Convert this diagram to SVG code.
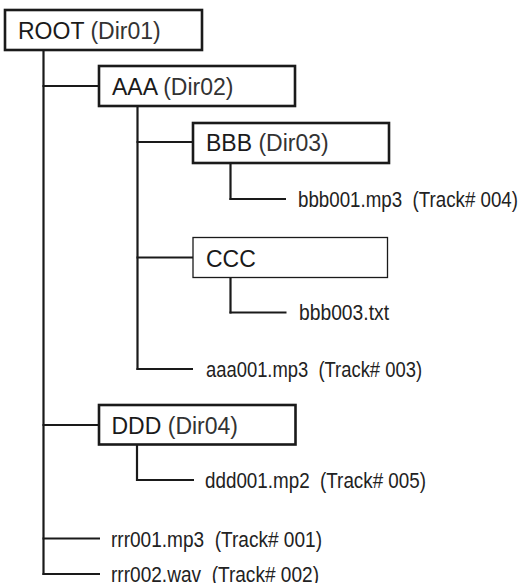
<svg xmlns="http://www.w3.org/2000/svg" width="522" height="583" viewBox="0 0 522 583">
<style>
.box{fill:#fff;stroke:#1a1a1a;stroke-width:2.6}
.thin{fill:#fff;stroke:#1a1a1a;stroke-width:1.3}
.lbl{font-family:"Liberation Sans",Arial,sans-serif;font-size:23px;fill:#1a1a1a}
.dir{fill:#333}
.file{font-family:"Liberation Sans",Arial,sans-serif;font-size:22px;fill:#222;white-space:pre}
.conn line{stroke:#1a1a1a;stroke-width:2.2}
</style>
<rect width="522" height="583" fill="#fff"/>
<g class="conn" id="connectors">
<line x1="43.5" y1="50" x2="43.5" y2="575"/>
<line x1="42.5" y1="86" x2="99" y2="86"/>
<line x1="42.5" y1="425" x2="99" y2="425"/>
<line x1="42.5" y1="538.5" x2="100" y2="538.5"/>
<line x1="42.5" y1="574" x2="100" y2="574"/>
<line x1="137.5" y1="106" x2="137.5" y2="370"/>
<line x1="136.5" y1="142" x2="193" y2="142"/>
<line x1="136.5" y1="257.5" x2="193" y2="257.5"/>
<line x1="136.5" y1="369" x2="193" y2="369"/>
<line x1="230.5" y1="163" x2="230.5" y2="200"/>
<line x1="229.5" y1="199" x2="286" y2="199"/>
<line x1="230.5" y1="277" x2="230.5" y2="313.5"/>
<line x1="229.5" y1="312.5" x2="286.5" y2="312.5"/>
<line x1="137" y1="444" x2="137" y2="481"/>
<line x1="136" y1="480" x2="194" y2="480"/>
</g>
<g id="root">
<rect class="box" x="5" y="10" width="197" height="40"/>
<text class="lbl" x="18" y="39.3">ROOT <tspan class="dir">(Dir01)</tspan></text>
</g>
<g id="aaa">
<rect class="box" x="99" y="66" width="196" height="40"/>
<text class="lbl" x="112" y="95.3">AAA <tspan class="dir">(Dir02)</tspan></text>
</g>
<g id="bbb">
<rect class="box" x="193" y="123" width="196" height="40"/>
<text class="lbl" x="206" y="151.3">BBB <tspan class="dir">(Dir03)</tspan></text>
</g>
<g id="bbb001">
<text class="file" x="298" y="207" textLength="220" lengthAdjust="spacingAndGlyphs">bbb001.mp3  (Track# 004)</text>
</g>
<g id="ccc">
<rect class="thin" x="193" y="237.5" width="194.5" height="40"/>
<text class="lbl" x="206" y="266.8">CCC</text>
</g>
<g id="bbb003">
<text class="file" x="299" y="320" textLength="90" lengthAdjust="spacingAndGlyphs">bbb003.txt</text>
</g>
<g id="aaa001">
<text class="file" x="206" y="377" textLength="216" lengthAdjust="spacingAndGlyphs">aaa001.mp3  (Track# 003)</text>
</g>
<g id="ddd">
<rect class="box" x="99" y="405" width="196.5" height="39.5"/>
<text class="lbl" x="111.5" y="434">DDD <tspan class="dir">(Dir04)</tspan></text>
</g>
<g id="ddd001">
<text class="file" x="205" y="488" textLength="221" lengthAdjust="spacingAndGlyphs">ddd001.mp2  (Track# 005)</text>
</g>
<g id="rrr001">
<text class="file" x="111" y="546.5" textLength="211" lengthAdjust="spacingAndGlyphs">rrr001.mp3  (Track# 001)</text>
</g>
<g id="rrr002">
<text class="file" x="111" y="582" textLength="208" lengthAdjust="spacingAndGlyphs">rrr002.wav  (Track# 002)</text>
</g>
</svg>
